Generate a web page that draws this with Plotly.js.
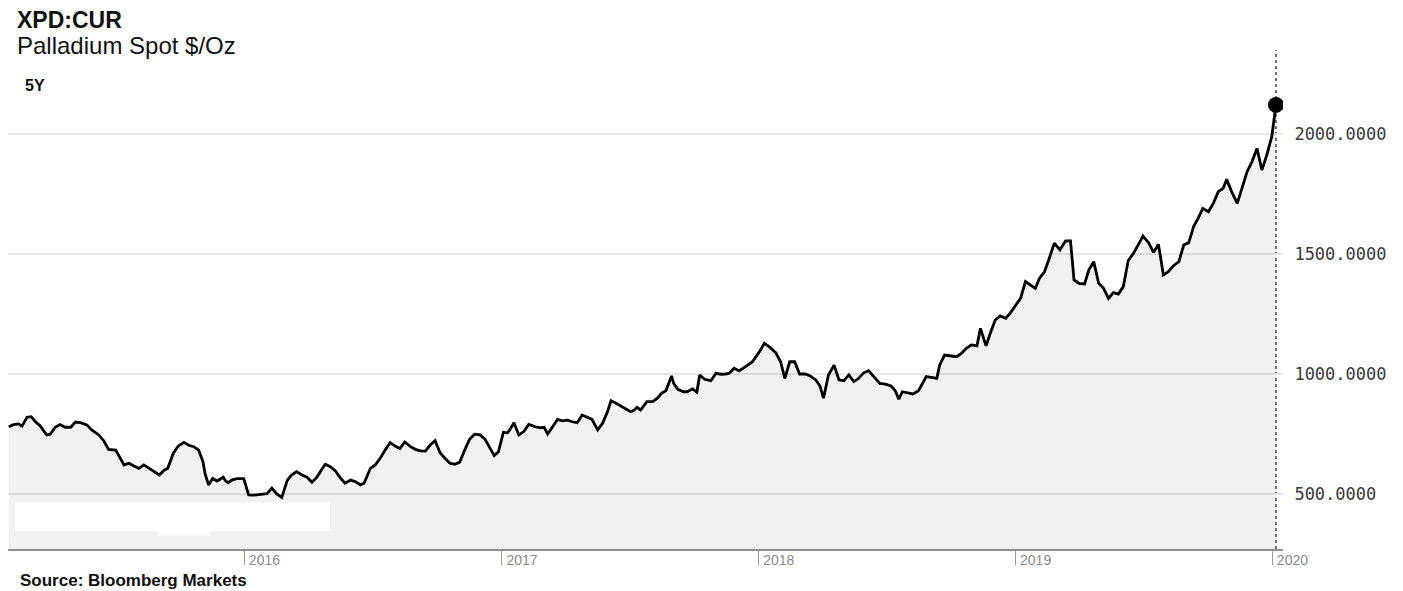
<!DOCTYPE html>
<html>
<head>
<meta charset="utf-8">
<script src="https://cdn.plot.ly/plotly-3.0.1.min.js"></script>
<style>
html,body{margin:0;padding:0;background:#fff;}
#chart{width:1403px;height:591px;}
</style>
</head>
<body>
<div id="chart"></div>
<script>
// ---- Data ----
const dates = [
"2015-01-31","2015-02-07","2015-02-14","2015-02-19","2015-02-26","2015-03-04","2015-03-10","2015-03-17","2015-03-26","2015-03-31",
"2015-04-07","2015-04-14","2015-04-21","2015-04-29","2015-05-06","2015-05-13","2015-05-22","2015-05-29","2015-06-08","2015-06-15",
"2015-06-22","2015-07-02","2015-07-14","2015-07-21","2015-07-28","2015-08-04","2015-08-11","2015-08-18","2015-08-25","2015-09-02",
"2015-09-08","2015-09-14","2015-09-22","2015-09-29","2015-10-07","2015-10-14","2015-10-21","2015-10-28","2015-11-03","2015-11-06",
"2015-11-11","2015-11-17","2015-11-23","2015-11-28","2015-12-02","2015-12-05","2015-12-09","2015-12-14","2015-12-21","2015-12-31",
"2016-01-07","2016-01-14","2016-01-23","2016-02-02","2016-02-09","2016-02-16","2016-02-23","2016-03-02","2016-03-08","2016-03-15",
"2016-03-23","2016-03-30","2016-04-06","2016-04-13","2016-04-20","2016-04-25","2016-05-02","2016-05-09","2016-05-16","2016-05-23",
"2016-05-31","2016-06-07","2016-06-14","2016-06-19","2016-06-23","2016-06-28","2016-07-05","2016-07-12","2016-07-19","2016-07-26",
"2016-08-02","2016-08-09","2016-08-16","2016-08-24","2016-08-31","2016-09-07","2016-09-14","2016-09-21","2016-09-28","2016-10-05",
"2016-10-12","2016-10-19","2016-10-26","2016-11-02","2016-11-09","2016-11-16","2016-11-23","2016-12-01","2016-12-08","2016-12-15",
"2016-12-21","2016-12-27","2017-01-03","2017-01-09","2017-01-12","2017-01-18","2017-01-25","2017-02-01","2017-02-08","2017-02-18",
"2017-02-25","2017-03-02","2017-03-07","2017-03-14","2017-03-21","2017-03-28","2017-04-04","2017-04-11","2017-04-18","2017-04-25",
"2017-05-02","2017-05-09","2017-05-17","2017-05-24","2017-05-31","2017-06-05","2017-06-11","2017-06-19","2017-06-26","2017-07-03",
"2017-07-08","2017-07-12","2017-07-17","2017-07-26","2017-08-03","2017-08-10","2017-08-16","2017-08-22","2017-08-30","2017-09-02",
"2017-09-08","2017-09-16","2017-09-21","2017-09-29","2017-10-05","2017-10-09","2017-10-16","2017-10-25","2017-11-01","2017-11-08",
"2017-11-15","2017-11-20","2017-11-27","2017-12-04","2017-12-13","2017-12-23","2018-01-01","2018-01-09","2018-01-17","2018-01-25",
"2018-02-01","2018-02-07","2018-02-14","2018-02-21","2018-02-28","2018-03-08","2018-03-15","2018-03-23","2018-03-29","2018-04-03",
"2018-04-10","2018-04-18","2018-04-25","2018-05-02","2018-05-09","2018-05-16","2018-05-23","2018-05-30","2018-06-06","2018-06-13",
"2018-06-22","2018-06-30","2018-07-08","2018-07-14","2018-07-19","2018-07-24","2018-07-28","2018-08-08","2018-08-16","2018-08-20",
"2018-08-27","2018-09-03","2018-09-11","2018-09-15","2018-09-22","2018-10-02","2018-10-09","2018-10-16","2018-10-23","2018-10-30",
"2018-11-07","2018-11-12","2018-11-20","2018-11-26","2018-12-03","2018-12-10","2018-12-18","2018-12-24","2019-01-01","2019-01-08",
"2019-01-15","2019-01-22","2019-01-29","2019-02-04","2019-02-11","2019-02-17","2019-02-25","2019-03-05","2019-03-13","2019-03-20",
"2019-03-25","2019-04-01","2019-04-09","2019-04-15","2019-04-22","2019-04-29","2019-05-06","2019-05-13","2019-05-20","2019-05-27",
"2019-06-03","2019-06-10","2019-06-18","2019-06-25","2019-07-01","2019-07-09","2019-07-16","2019-07-23","2019-07-30","2019-08-06",
"2019-08-13","2019-08-21","2019-08-28","2019-09-04","2019-09-11","2019-09-18","2019-09-24","2019-10-02","2019-10-09","2019-10-16",
"2019-10-23","2019-10-28","2019-11-04","2019-11-12","2019-11-19","2019-11-26","2019-12-03","2019-12-10","2019-12-17","2019-12-24",
"2019-12-31","2020-01-04","2020-01-06"
];
const prices = [
780,789,792,783,820,822,801,783,746,749,
778,789,778,778,800,797,788,767,746,722,
686,683,621,628,617,607,621,607,593,579,
597,607,670,700,715,703,697,683,635,586,
538,565,554,561,570,555,547,558,564,564,
496,495,497,501,524,500,485,558,579,593,
579,570,549,570,603,624,614,597,568,545,
558,551,538,545,572,607,621,649,683,714,
700,690,717,697,686,680,679,704,722,672,
649,628,624,633,683,728,749,746,728,690,
660,676,757,755,767,797,746,760,790,780,
776,778,750,780,811,805,808,801,797,829,
820,811,767,795,843,889,880,867,853,843,
850,861,850,885,885,899,920,930,992,961,
936,926,926,938,924,996,978,972,1003,999,
1000,1003,1024,1013,1030,1051,1089,1128,1111,1089,
1051,982,1051,1051,1000,1000,992,975,950,899,
996,1037,975,972,996,968,982,1005,1014,989,
961,958,950,930,895,926,924,917,930,950,
989,986,982,1037,1079,1075,1072,1086,1107,1121,
1117,1190,1117,1170,1225,1242,1232,1253,1288,1315,
1385,1371,1357,1399,1426,1475,1545,1517,1555,1555,
1392,1378,1375,1433,1468,1378,1357,1315,1339,1333,
1364,1472,1505,1542,1575,1547,1507,1540,1413,1426,
1450,1468,1538,1547,1614,1653,1690,1676,1711,1760,
1774,1811,1760,1711,1774,1843,1885,1940,1850,1913,
1989,2086,2121
];
const yearTicks = ["2016-01-01","2017-01-01","2018-01-01","2019-01-01","2020-01-01"];
const yearLabels = ["2016","2017","2018","2019","2020"];
const priceTicks = [500,1000,1500,2000];

const lastDate = dates[dates.length-1];
const lastPrice = prices[prices.length-1];

const traces = [
  {
    type:'scatter', mode:'lines', x:dates, y:prices,
    line:{color:'#000', width:2.8, shape:'linear'},
    fill:'tozeroy', fillcolor:'rgba(0,0,0,0.055)',
    hoverinfo:'x+y', showlegend:false
  },
  {
    type:'scatter', mode:'markers', x:[lastDate], y:[lastPrice],
    marker:{color:'#000', size:16}, showlegend:false, hoverinfo:'x+y'
  }
];

const layout = {
  width:1403, height:591,
  margin:{l:8, r:120, t:50, b:42, pad:0},
  paper_bgcolor:'#fff', plot_bgcolor:'#fff',
  font:{family:'"Liberation Sans", Arial, sans-serif', color:'#111'},
  showlegend:false,
  xaxis:{
    type:'date',
    range:['2015-01-30','2020-01-16'],
    tickmode:'array', tickvals:yearTicks, ticktext:yearLabels,
    ticks:'outside', ticklen:14, tickwidth:1, tickcolor:'#999',
    ticklabelshift:20, ticklabelstandoff:-17,
    tickfont:{size:14, color:'#8a8a8a'},
    showgrid:false, zeroline:false,
    showline:true, linecolor:'#8f8f8f', linewidth:2,
    automargin:false, fixedrange:true
  },
  yaxis:{
    side:'right',
    range:[270.8, 2350],
    tickmode:'array', tickvals:priceTicks, tickformat:'.4f',
    ticks:'outside', ticklen:7, tickcolor:'rgba(0,0,0,0)',
    tickfont:{family:'"DejaVu Sans Mono", "Liberation Mono", monospace', size:17, color:'#3a3a3a'},
    showgrid:true, gridcolor:'#e6e6e6', gridwidth:2,
    zeroline:false, showline:false,
    automargin:false, fixedrange:true
  },
  shapes:[
    {type:'line', xref:'x', yref:'paper', x0:lastDate, x1:lastDate, y0:0, y1:1,
     line:{color:'#444', width:1.5, dash:'dot'}, layer:'below'},
    {type:'rect', xref:'paper', yref:'paper', x0:0.0055, x1:0.2525, y0:0.0361, y1:0.0942,
     fillcolor:'#fff', line:{width:0}},
    {type:'rect', xref:'paper', yref:'paper', x0:0.1176, x1:0.1584, y0:0.027, y1:0.0371,
     fillcolor:'#fff', line:{width:0}}
  ],
  annotations:[
    {text:'<b>XPD:CUR</b>', xref:'paper', yref:'paper', x:0.0055, y:1.0601,
     xanchor:'left', yanchor:'middle', showarrow:false,
     font:{size:23, color:'#111'}},
    {text:'Palladium Spot $/Oz', xref:'paper', yref:'paper', x:0.0055, y:1.009,
     xanchor:'left', yanchor:'middle', showarrow:false,
     font:{size:24, color:'#111'}},
    {text:'<b>5Y</b>', xref:'paper', yref:'paper', x:0.0118, y:0.9279,
     xanchor:'left', yanchor:'middle', showarrow:false,
     font:{size:16, color:'#111'}},
    {text:'<b>Source: Bloomberg Markets</b>', xref:'paper', yref:'paper', x:0.0078, y:-0.0641,
     xanchor:'left', yanchor:'middle', showarrow:false,
     font:{size:17, color:'#111'}}
  ]
};

Plotly.newPlot('chart', traces, layout, {displayModeBar:false, staticPlot:true});
</script>
</body>
</html>
